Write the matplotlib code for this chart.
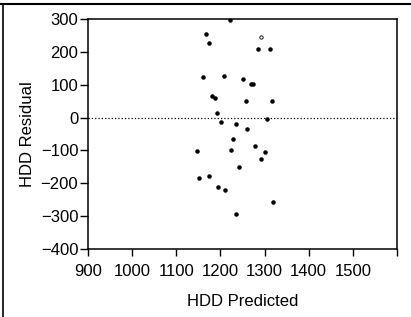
import matplotlib.pyplot as plt
from matplotlib.lines import Line2D

plt.rcParams['font.family'] = ['Liberation Sans', 'DejaVu Sans']

# HDD predicted vs residual
hdd_pred = [1222, 1168, 1173, 1286, 1313, 1161, 1209, 1252, 1269, 1274,
            1182, 1187, 1258, 1317, 1192, 1306, 1202, 1235, 1261, 1228,
            1278, 1148, 1223, 1300, 1292, 1243, 1152, 1173, 1194, 1210,
            1318, 1236]
hdd_resid = [297, 255, 227, 208, 209, 123, 126, 117, 102, 102,
             65, 61, 51, 50, 15, -4, -14, -20, -35, -66,
             -86, -101, -99, -106, -127, -150, -185, -177, -211, -220,
             -257, -294]
# one point drawn hollow in the original
hollow_pred = [1292]
hollow_resid = [245]

xticks = [900, 1000, 1100, 1200, 1300, 1400, 1500, 1600]
xtick_labels = ['900', '1000', '1100', '1200', '1300', '1400', '1500', '']
yticks = [-400, -300, -200, -100, 0, 100, 200, 300]

fig = plt.figure(figsize=(4.11, 3.17), dpi=100)
ax = fig.add_axes([88 / 411, 1 - 249 / 317, 309 / 411, 230 / 317])

ax.scatter(hdd_pred, hdd_resid, s=5, color='black', zorder=3)
ax.scatter(hollow_pred, hollow_resid, s=6, facecolor='white',
           edgecolor='black', linewidth=0.6, zorder=3)
ax.axhline(0, color='black', linestyle=':', linewidth=0.9)

ax.set_xlim(900, 1600)
ax.set_ylim(-400, 300)
ax.set_xticks(xticks)
ax.set_xticklabels(xtick_labels)
ax.set_yticks(yticks)
ax.tick_params(axis='y', length=6, width=1, pad=1, labelsize=12)
ax.tick_params(axis='x', length=5, width=1, pad=6, labelsize=12)
for sp in ax.spines.values():
    sp.set_linewidth(1.1)

ax.set_xlabel('HDD Predicted', fontsize=12, va='top')
ax.xaxis.set_label_coords(0.5, -(294 - 249) / 230)
ax.set_ylabel('HDD Residual', fontsize=12)
ax.yaxis.set_label_coords((35 - 88) / 309, 0.5)

# outer frame (top and left only)
fig.add_artist(Line2D([0, 1], [1 - 4 / 317, 1 - 4 / 317], color='black', linewidth=1.5))
fig.add_artist(Line2D([3 / 411, 3 / 411], [0, 1 - 4 / 317], color='black', linewidth=1.2))

fig.savefig('out.png', dpi=100)
